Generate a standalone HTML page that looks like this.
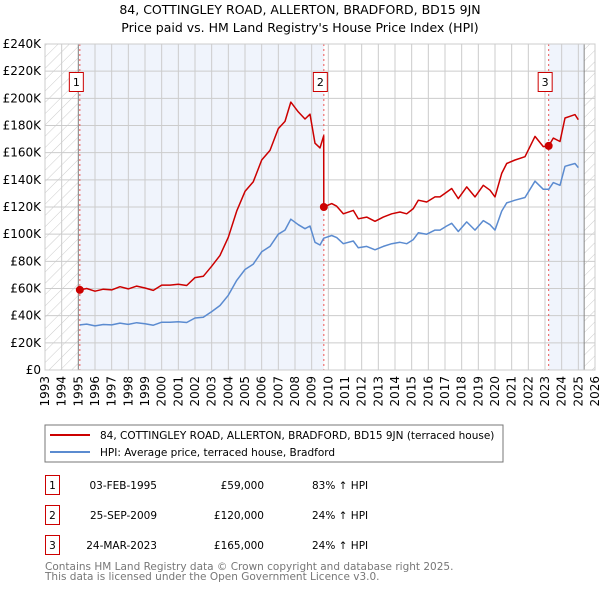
<!DOCTYPE html>
<html><head><meta charset="utf-8">
<style>
body{margin:0;background:#fff;font-family:"DejaVu Sans","Liberation Sans",sans-serif;}
#wrap{position:relative;width:600px;height:590px;overflow:hidden;}
svg text{font-family:"DejaVu Sans","Liberation Sans",sans-serif;}
</style></head>
<body><div id="wrap">
<svg id="chart" width="600" height="590" xmlns="http://www.w3.org/2000/svg">
<defs>
<pattern id="hatch" patternUnits="userSpaceOnUse" width="8" height="8" patternTransform="rotate(45)">
<rect width="8" height="8" fill="#fff"/><line x1="0" y1="0" x2="0" y2="8" stroke="#ccc" stroke-width="1"/>
</pattern>
</defs>
<text x="300" y="14" text-anchor="middle" font-size="12.5" fill="#000">84, COTTINGLEY ROAD, ALLERTON, BRADFORD, BD15 9JN</text>
<text x="300" y="32" text-anchor="middle" font-size="12.5" fill="#000">Price paid vs. HM Land Registry's House Price Index (HPI)</text>
<g id="plot"></g>
<rect x="45" y="425" width="458" height="37" fill="#fff" stroke="#777" stroke-width="1"/>
<line x1="50" y1="435" x2="90" y2="435" stroke="#cc0000" stroke-width="2"/>
<text x="100" y="439" font-size="10.5">84, COTTINGLEY ROAD, ALLERTON, BRADFORD, BD15 9JN (terraced house)</text>
<line x1="50" y1="452" x2="90" y2="452" stroke="#5b8bd0" stroke-width="2"/>
<text x="100" y="456" font-size="10.5">HPI: Average price, terraced house, Bradford</text>
<g font-size="10.5">
<rect x="45.5" y="475.5" width="14" height="19" fill="#fff" stroke="#cc0000"/>
<text x="52.5" y="489" text-anchor="middle">1</text>
<text x="157" y="489" text-anchor="end">03-FEB-1995</text>
<text x="264" y="489" text-anchor="end">£59,000</text>
<text x="312" y="489">83% ↑ HPI</text>
<rect x="45.5" y="505.5" width="14" height="19" fill="#fff" stroke="#cc0000"/>
<text x="52.5" y="519" text-anchor="middle">2</text>
<text x="157" y="519" text-anchor="end">25-SEP-2009</text>
<text x="264" y="519" text-anchor="end">£120,000</text>
<text x="312" y="519">24% ↑ HPI</text>
<rect x="45.5" y="535.5" width="14" height="19" fill="#fff" stroke="#cc0000"/>
<text x="52.5" y="549" text-anchor="middle">3</text>
<text x="157" y="549" text-anchor="end">24-MAR-2023</text>
<text x="264" y="549" text-anchor="end">£165,000</text>
<text x="312" y="549">24% ↑ HPI</text>
</g>
<text x="45" y="570" font-size="10.5" fill="#777">Contains HM Land Registry data © Crown copyright and database right 2025.</text>
<text x="45" y="580" font-size="10.5" fill="#777">This data is licensed under the Open Government Licence v3.0.</text>
</svg></div>
<script>
const yearTicks=[1993,1994,1995,1996,1997,1998,1999,2000,2001,2002,2003,2004,2005,2006,2007,2008,2009,2010,2011,2012,2013,2014,2015,2016,2017,2018,2019,2020,2021,2022,2023,2024,2025,2026];
const valueTicks=[0,20,40,60,80,100,120,140,160,180,200,220,240];
const hpiYears=[1995.1,1995.5,1996.0,1996.5,1997.0,1997.5,1998.0,1998.5,1999.0,1999.5,2000.0,2000.5,2001.0,2001.5,2002.0,2002.5,2003.0,2003.5,2004.0,2004.5,2005.0,2005.5,2006.0,2006.5,2007.0,2007.4,2007.75,2008.2,2008.6,2008.9,2009.2,2009.5,2009.72,2009.73,2010.2,2010.5,2010.9,2011.5,2011.8,2012.3,2012.8,2013.3,2013.8,2014.3,2014.7,2015.1,2015.4,2015.9,2016.4,2016.7,2017.1,2017.4,2017.8,2018.3,2018.8,2019.3,2019.7,2020.0,2020.4,2020.7,2021.2,2021.8,2022.4,2022.9,2023.22,2023.5,2023.9,2024.2,2024.5,2024.8,2025.0];
const hpiValues=[33.2,33.8,32.5,33.5,33.2,34.5,33.6,34.8,34.0,33.0,35.2,35.2,35.5,35.0,38.3,38.8,43.0,47.5,55.0,66,74,78,87,91,100,103,111,107,104,106,94,92,97,97,99,97.5,93,95,90,91,88.5,91,93,94,93,96,101,100,103,103,106,108,102,109,103,110,107,103,117,123,125,127,139,133,133,138,136,150,151,152,149];
const priceValues=[59,60,58,59.5,59,61.3,59.7,61.8,60.4,58.6,62.5,62.5,63.1,62.2,68,69,76.4,84.4,97.7,117,131.5,138.6,154.6,161.7,177.7,183,197.2,190,184.8,188.3,167,163.5,172.4,120,122.5,120.6,115,117.5,111.3,112.6,109.5,112.6,115,116.3,115,118.8,125,123.7,127.4,127.4,131,133.6,126.2,134.8,127.4,136,132.4,127.4,144.7,152,154.6,157,172,164.5,165,170.7,168.2,185.5,186.8,188,184.3];
const saleYears=[1995.09,2009.73,2023.22];
const saleValues=[59,120,165];
const saleLabels=["1","2","3"];
const dataEndYear=2025.35;

const X0=45,X1=595,Y0=370,Y1=44,yr0=1993,yr1=2026,vMax=240;
const sx=y=>X0+(y-yr0)/(yr1-yr0)*(X1-X0);
const sy=v=>Y0-v/vMax*(Y0-Y1);
const NS="http://www.w3.org/2000/svg";
const g=document.getElementById('plot');
function mk(tag,attrs){const e=document.createElementNS(NS,tag);for(const k in attrs)e.setAttribute(k,attrs[k]);g.appendChild(e);return e;}
let e;
e=mk('rect',{x:X0,y:Y1,width:X1-X0,height:Y0-Y1,fill:'#fff'});


e=mk('rect',{x:sx(saleYears[0]),y:Y1,width:sx(saleYears[1])-sx(saleYears[0]),height:Y0-Y1,fill:'#f0f4fc'});


e=mk('rect',{x:sx(saleYears[2]),y:Y1,width:sx(dataEndYear)-sx(saleYears[2]),height:Y0-Y1,fill:'#f0f4fc'});


e=mk('rect',{x:X0,y:Y1,width:sx(1995)-X0,height:Y0-Y1,fill:'url(#hatch)'});


e=mk('rect',{x:sx(dataEndYear),y:Y1,width:X1-sx(dataEndYear),height:Y0-Y1,fill:'url(#hatch)'});


yearTicks.forEach(t=>{
 e=mk('line',{x1:sx(t),x2:sx(t),y1:Y1,y2:Y0,stroke:'#ccc','stroke-width':1});
 
 
 e=mk('text',{transform:`translate(${sx(t)+4},${Y0+6}) rotate(-90)`,'text-anchor':'end','font-size':12});
 e.textContent=t;
 
 
});
valueTicks.forEach(t=>{
 e=mk('line',{x1:X0,x2:X1,y1:sy(t),y2:sy(t),stroke:'#ccc','stroke-width':1});
 
 
 e=mk('text',{x:X0-4,y:sy(t)+4,'text-anchor':'end','font-size':12});
 e.textContent=t===0?'£0':'£'+t+'K';
 
 
});
[1995,dataEndYear].forEach(t=>{
 e=mk('line',{x1:sx(t),x2:sx(t),y1:Y1,y2:Y0,stroke:'#888','stroke-width':1});
 
 
});
saleYears.forEach((t,i)=>{
 e=mk('line',{x1:sx(t),x2:sx(t),y1:Y1,y2:Y0,stroke:'#ee5555','stroke-width':1,'stroke-dasharray':'2,3'});
 
 
});
const pts=(ys,vs)=>ys.map((y,i)=>sx(y).toFixed(1)+','+sy(vs[i]).toFixed(1)).join(' ');
e=mk('polyline',{points:pts(hpiYears,hpiValues),fill:'none',stroke:'#5b8bd0','stroke-width':1.5,'stroke-linejoin':'round'});


e=mk('polyline',{points:pts(hpiYears,priceValues),fill:'none',stroke:'#cc0000','stroke-width':1.5,'stroke-linejoin':'round'});


saleYears.forEach((t,i)=>{
 e=mk('circle',{cx:sx(t),cy:sy(saleValues[i]),r:4,fill:'#cc0000'});
 
 
 e=mk('rect',{x:sx(t)-10.5,y:72.5,width:14,height:19,fill:'#fff',stroke:'#cc0000'});
 
 
 e=mk('text',{x:sx(t)-3.5,y:86,'text-anchor':'middle','font-size':11});
 e.textContent=saleLabels[i];
 
 
});
e=mk('rect',{x:X0,y:Y1,width:X1-X0,height:Y0-Y1,fill:'none',stroke:'#ccc'});


</script>
</body></html>
